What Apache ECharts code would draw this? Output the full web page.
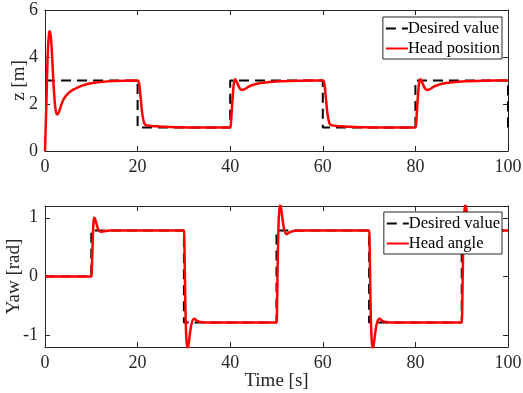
<!DOCTYPE html>
<html>
<head>
<meta charset="utf-8">
<script src="https://cdn.jsdelivr.net/npm/echarts@6.0.0/dist/echarts.min.js"></script>
<style>
  html, body { margin: 0; padding: 0; background: #fff; }
  #chart { width: 523px; height: 393px; }
</style>
</head>
<body>
<div id="chart"></div>
<script>
// top plot: z position
const zDesTime = [0, 20, 20, 40, 40, 60, 60, 80, 80, 100, 100];
const zDesVal  = [3, 3, 1, 1, 3, 3, 1, 1, 3, 3, 1];

const zTime = [0, 0.3, 0.6, 0.9, 1.1, 1.4, 1.8, 2.2, 2.6, 3.0, 3.5, 4, 5, 6, 7, 8, 10, 12, 15, 20,
  20.3, 20.6, 21, 21.4, 21.8, 22.5, 24, 27, 32, 40,
  40.2, 40.5, 40.8, 41.1, 41.5, 42, 42.5, 43, 44, 45, 47, 50, 55, 60,
  60.3, 60.6, 61, 61.4, 61.8, 62.5, 64, 67, 72, 80,
  80.2, 80.5, 80.8, 81.1, 81.5, 82, 82.5, 83, 84, 85, 87, 90, 95, 100];
const zHead = [0, 2.0, 4.2, 5.05, 5.1, 4.5, 3.0, 1.9, 1.55, 1.65, 1.95, 2.2, 2.45, 2.6, 2.7, 2.78, 2.88, 2.94, 2.98, 3.0,
  2.9, 2.4, 1.6, 1.2, 1.1, 1.08, 1.05, 1.02, 1.0, 1.0,
  1.3, 2.2, 2.9, 3.05, 2.9, 2.68, 2.6, 2.62, 2.74, 2.82, 2.9, 2.96, 2.99, 3.0,
  2.9, 2.4, 1.6, 1.2, 1.1, 1.08, 1.05, 1.02, 1.0, 1.0,
  1.3, 2.2, 2.9, 3.05, 2.9, 2.68, 2.6, 2.62, 2.74, 2.82, 2.9, 2.96, 2.99, 3.0];

// bottom plot: yaw
const yawDesTime = [0, 10, 10, 30, 30, 50, 50, 70, 70, 90, 90, 100];
const yawDesVal  = [0, 0, 0.785, 0.785, -0.785, -0.785, 0.785, 0.785, -0.785, -0.785, 0.785, 0.785];

const yawTime = [0, 10, 10.1, 10.3, 10.5, 10.7, 11.0, 11.5, 12, 12.7, 14, 30,
  30.1, 30.3, 30.5, 30.8, 31.1, 31.6, 32.2, 33, 34, 36, 50,
  50.1, 50.3, 50.5, 50.8, 51.1, 51.6, 52.2, 53, 54, 56, 70,
  70.1, 70.3, 70.5, 70.8, 71.1, 71.6, 72.2, 73, 74, 76, 90,
  90.1, 90.3, 90.5, 90.8, 91.1, 91.6, 92.2, 93, 94, 96, 100];
const yawHead = [0, 0, 0.1, 0.6, 0.95, 1.0, 0.93, 0.8, 0.76, 0.77, 0.785, 0.785,
  0.6, -0.4, -1.0, -1.24, -1.1, -0.82, -0.72, -0.76, -0.78, -0.785, -0.785,
  -0.6, 0.4, 1.0, 1.24, 1.1, 0.82, 0.72, 0.76, 0.78, 0.785, 0.785,
  0.6, -0.4, -1.0, -1.24, -1.1, -0.82, -0.72, -0.76, -0.78, -0.785, -0.785,
  -0.6, 0.4, 1.0, 1.24, 1.1, 0.82, 0.72, 0.76, 0.78, 0.785, 0.785];

const zTicks = [0, 2, 4, 6];
const yawTicks = [-1, 0, 1];

const zip = (xs, ys) => xs.map((x, i) => [x, ys[i]]);

const font = 'Liberation Serif';
const ink = '#262626';

function xAx(grid, pos, extra) {
    return Object.assign({
        gridIndex: grid,
        type: 'value',
        position: pos,
        min: 0,
        max: 100,
        interval: 20,
        axisLine: { show: true, onZero: false, lineStyle: { color: ink, width: 1 } },
        axisTick: { show: true, inside: true, length: 5, lineStyle: { color: ink } },
        axisLabel: { show: pos === 'bottom', margin: 7, color: ink, fontFamily: font, fontSize: 18 },
        splitLine: { show: false }
    }, extra || {});
}

function yAx(grid, pos, min, max, ticks, extra) {
    return Object.assign({
        gridIndex: grid,
        type: 'value',
        position: pos,
        min: min,
        max: max,
        axisLine: { show: true, onZero: false, lineStyle: { color: ink, width: 1 } },
        axisTick: { show: true, inside: true, length: 5, customValues: ticks, lineStyle: { color: ink } },
        axisLabel: { show: pos === 'left', margin: 7, color: ink, fontFamily: font, fontSize: 18, customValues: ticks },
        splitLine: { show: false }
    }, extra || {});
}

const nameStyle = { color: ink, fontFamily: font, fontSize: 19 };

function legendBox(names, top) {
    return {
        data: names,
        orient: 'vertical', right: 21, top: top,
        itemWidth: 22, itemHeight: 16, itemGap: 3,
        padding: [3, 2, 2, 2],
        borderColor: ink, borderWidth: 1, backgroundColor: '#fff', borderRadius: 0,
        itemStyle: { opacity: 0, borderWidth: 0 },
        textStyle: { color: '#000', fontFamily: font, fontSize: 16.5, padding: [0, 0, 0, -5] }
    };
}

const chart = echarts.init(document.getElementById('chart'));
const option = {
    animation: false,
    backgroundColor: '#fff',
    grid: [
        { left: 45, top: 10, width: 463, height: 141, containLabel: false, outerBoundsMode: 'none' },
        { left: 45, top: 206, width: 463, height: 141, containLabel: false, outerBoundsMode: 'none' }
    ],
    xAxis: [
        xAx(0, 'bottom'),
        xAx(0, 'top'),
        xAx(1, 'bottom', { name: 'Time [s]', nameLocation: 'middle', nameGap: 25, nameMoveOverlap: false, nameTextStyle: nameStyle }),
        xAx(1, 'top')
    ],
    yAxis: [
        yAx(0, 'left', 0, 6, zTicks, { name: 'z [m]', nameLocation: 'middle', nameGap: 16, nameMoveOverlap: false, nameTextStyle: nameStyle }),
        yAx(0, 'right', 0, 6, zTicks),
        yAx(1, 'left', -1.2, 1.2, yawTicks, { name: 'Yaw [rad]', nameLocation: 'middle', nameGap: 21, nameMoveOverlap: false, nameTextStyle: nameStyle }),
        yAx(1, 'right', -1.2, 1.2, yawTicks)
    ],
    legend: [
        legendBox(['Desired value', 'Head position'], 17),
        legendBox(['Desired value', 'Head angle'], 212)
    ],
    series: [
        {
            name: 'Desired value', type: 'line', xAxisIndex: 0, yAxisIndex: 0,
            data: zip(zDesTime, zDesVal), symbol: 'none',
            lineStyle: { color: '#000', width: 2, type: [10, 6] }, itemStyle: { color: '#000' }
        },
        {
            name: 'Head position', type: 'line', xAxisIndex: 0, yAxisIndex: 0,
            data: zip(zTime, zHead), symbol: 'none', smooth: 0.3,
            lineStyle: { color: '#ff0000', width: 2.5 }, itemStyle: { color: '#ff0000' }
        },
        {
            name: 'Desired value', type: 'line', xAxisIndex: 2, yAxisIndex: 2,
            data: zip(yawDesTime, yawDesVal), symbol: 'none',
            lineStyle: { color: '#000', width: 2, type: [10, 6] }, itemStyle: { color: '#000' }
        },
        {
            name: 'Head angle', type: 'line', xAxisIndex: 2, yAxisIndex: 2,
            data: zip(yawTime, yawHead), symbol: 'none', smooth: 0.3,
            lineStyle: { color: '#ff0000', width: 2.5 }, itemStyle: { color: '#ff0000' }
        }
    ]
};
chart.setOption(option);
</script>
</body>
</html>
